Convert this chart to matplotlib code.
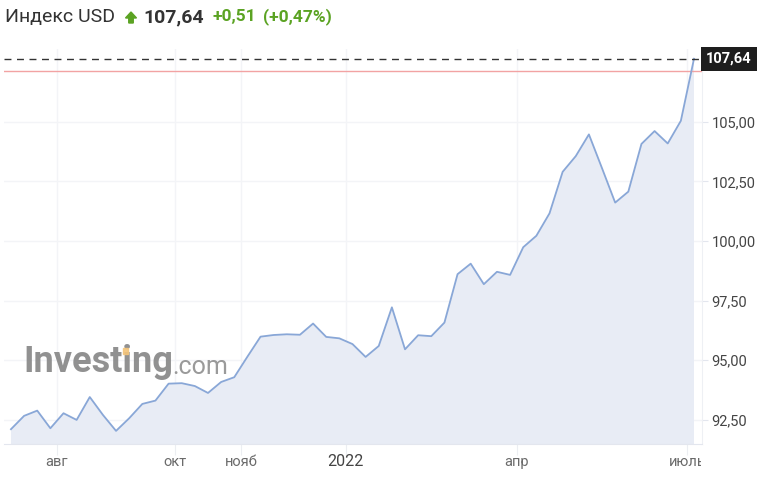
import datetime as dt

import matplotlib
matplotlib.use("Agg")
import matplotlib.pyplot as plt
from matplotlib.patches import FancyArrow, Rectangle
from matplotlib.transforms import Bbox, TransformedBbox

plt.rcParams["font.family"] = ["Roboto", "DejaVu Sans"]

W, H = 783, 495

# weekly closes, Jul 2021 - Jul 2022
start_date = dt.date(2021, 7, 4)
values = [
    92.11, 92.67, 92.89, 92.15, 92.78, 92.50, 93.46, 92.71, 92.04, 92.57,
    93.17, 93.31, 94.02, 94.04, 93.92, 93.63, 94.09, 94.29, 95.15, 95.99,
    96.06, 96.09, 96.07, 96.54, 95.98, 95.92, 95.68, 95.14, 95.60, 97.22,
    95.46, 96.05, 96.01, 96.58, 98.61, 99.05, 98.19, 98.71, 98.58, 99.74,
    100.22, 101.16, 102.90, 103.56, 104.47, 103.05, 101.61, 102.07, 104.07,
    104.61, 104.09, 105.04, 107.64,
]
dates = [start_date + dt.timedelta(weeks=i) for i in range(len(values))]

last_value = 107.64
change = 0.51
change_pct = 0.47
prev_close = last_value - change

y_ticks = [92.5, 95.0, 97.5, 100.0, 102.5, 105.0]
month_labels = {
    (2021, 8): "авг",
    (2021, 10): "окт",
    (2021, 11): "нояб",
    (2022, 1): "2022",
    (2022, 4): "апр",
    (2022, 7): "июль",
}

LINE = "#89a7d7"
FILL = "#e8ecf5"
GRID = "#f3f4f7"
GREEN = "#5ba323"


def fmt(v):
    return f"{v:.2f}".replace(".", ",")


fig = plt.figure(figsize=(W / 100, H / 100), dpi=100)
ax = fig.add_axes([4 / W, 1 - 444 / H, 698 / W, 395 / H])

xs = list(range(len(values)))
ax.fill_between(xs, values, 0, color=FILL, lw=0, zorder=1)
ax.plot(xs, values, color=LINE, lw=1.3, zorder=3)

ax.set_xlim(-0.53, len(values) - 1 + 0.61)
ax.set_ylim(91.49, 108.05)

# month ticks sit halfway between the last week of a month and the first of the next
tick_pos, tick_txt = [], []
for i in range(1, len(dates)):
    key = (dates[i].year, dates[i].month)
    if dates[i].month != dates[i - 1].month and key in month_labels:
        tick_pos.append(i - 0.5)
        tick_txt.append(month_labels[key])

ax.set_xticks(tick_pos)
ax.tick_params(axis="x", length=8, color="#eceef2", labelbottom=False)

# labels drawn by hand so the last one can be cut at the plot edge
clip = TransformedBbox(Bbox([[0, 0], [701 / W, 1]]), fig.transFigure)
for pos, txt in zip(tick_pos, tick_txt):
    big = txt == "2022"
    t = ax.text(pos, -18 / 395, txt, transform=ax.get_xaxis_transform(),
                ha="center", va="center", fontsize=11.5 if big else 10.5,
                color="#444444" if big else "#6b6b6b", clip_on=True)
    t.set_clip_box(clip)

ax.yaxis.tick_right()
ax.set_yticks(y_ticks)
ax.set_yticklabels([fmt(v) for v in y_ticks])
ax.tick_params(axis="y", length=4, color="#e3e6ee", pad=3, labelsize=10.5,
               labelcolor="#444444")

ax.grid(True, color=GRID, lw=1, zorder=0)
ax.set_axisbelow(True)
for side in ["top", "left"]:
    ax.spines[side].set_visible(False)
ax.spines["bottom"].set_color("#e3e6ee")
ax.spines["right"].set_color("#eef0f4")

ax.axhline(prev_close, color="#f2a3a3", lw=1, zorder=2)
ax.axhline(last_value, color="#333333", lw=1, ls=(0, (5, 4)), zorder=4)

# price box on the right axis
ax.annotate(fmt(last_value), xy=(1, last_value), xycoords=("axes fraction", "data"),
            xytext=(3, 0), textcoords="offset points", ha="left", va="center",
            fontsize=10.5, fontweight="bold", color="white", annotation_clip=False,
            bbox=dict(boxstyle="square,pad=0.35", fc="#1e1e1e", ec="none"))

# watermark
fig.text(23 / W, 1 - 362 / H, "Investing", fontsize=26, fontweight="bold",
         color="#858585", ha="left", va="center", alpha=0.9)
fig.text(172 / W, 1 - 367 / H, ".com", fontsize=18, color="#8f8f8f",
         ha="left", va="center", alpha=0.9)
fig.patches.append(Rectangle((123 / W, 1 - 354 / H), 5 / W, 6 / H,
                             color="#f3c47a", alpha=0.9, zorder=5,
                             transform=fig.transFigure, figure=fig))

# header
y_head = 1 - 17 / H
fig.text(5 / W, y_head, "Индекс USD", fontsize=14, color="#333333",
         ha="left", va="center")
fig.patches.append(FancyArrow(131 / W, 1 - 23 / H, 0, 11 / H, width=4.5 / W,
                              head_width=11 / W, head_length=6 / H,
                              length_includes_head=True, color=GREEN,
                              transform=fig.transFigure, figure=fig))
fig.text(143 / W, y_head, fmt(last_value), fontsize=14, fontweight="bold",
         color="#333333", ha="left", va="center")
fig.text(212 / W, y_head, "+" + fmt(change), fontsize=12.5, fontweight="bold",
         color=GREEN, ha="left", va="center")
fig.text(263 / W, y_head, "(+" + fmt(change_pct) + "%)", fontsize=12.5,
         fontweight="bold", color=GREEN, ha="left", va="center")

fig.savefig("out.png", dpi=100)
